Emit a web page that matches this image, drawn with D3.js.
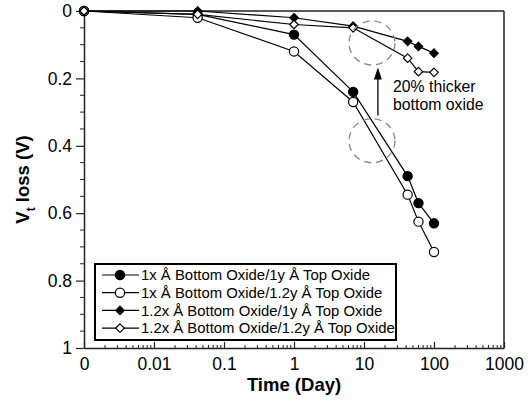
<!DOCTYPE html>
<html>
<head>
<meta charset="utf-8">
<script src="https://cdn.jsdelivr.net/npm/d3@7"></script>
<style>
  body { margin: 0; background: #fff; }
  text { font-family: "Liberation Sans", Arial, sans-serif; }
</style>
</head>
<body>
<div id="graph-container"></div>
<script>
// time in days; 0 is drawn at 0.001 on the log axis
const times = [0.001, 0.042, 1, 7, 42, 60, 100];

const seriesNames = [
    '1x Å Bottom Oxide/1y Å Top Oxide',
    '1x Å Bottom Oxide/1.2y Å Top Oxide',
    '1.2x Å Bottom Oxide/1y Å Top Oxide',
    '1.2x Å Bottom Oxide/1.2y Å Top Oxide',
];
const bot1Top1 = [0, 0.01, 0.07, 0.24, 0.49, 0.57, 0.63];
const bot1Top12 = [0, 0.02, 0.12, 0.27, 0.545, 0.625, 0.715];
const bot12Top1 = [0, 0.0, 0.02, 0.045, 0.09, 0.105, 0.125];
const bot12Top12 = [0, 0.01, 0.04, 0.05, 0.14, 0.18, 0.182];
const markers = ['circle', 'circle', 'diamond', 'diamond'];
const filled = [true, false, true, false];

const xTicks = [0.001, 0.01, 0.1, 1, 10, 100, 1000];
const xTickLabels = ['0', '0.01', '0.1', '1', '10', '100', '1000'];
const yTicks = [0, 0.2, 0.4, 0.6, 0.8, 1];

const margin = { top: 11, bottom: 52, left: 84, right: 24 };
const WIDTH = 528, HEIGHT = 400;
const width = WIDTH - margin.left - margin.right,
    height = HEIGHT - margin.top - margin.bottom;

const svg = d3.select('#graph-container').append('svg')
    .attr('width', WIDTH)
    .attr('height', HEIGHT);

const container = svg.append('g')
    .attr('transform', `translate(${margin.left} ${margin.top})`);

const xScale = d3.scaleLog().domain([0.001, 1000]).range([0, width]);
const yScale = d3.scaleLinear().domain([0, 1]).range([0, height]);

// minor ticks
const xMinor = [];
for (let e = -3; e < 3; e++) {
    for (let k = 2; k <= 9; k++) xMinor.push(k * Math.pow(10, e));
}
const yMinor = d3.range(0, 1.0001, 0.05).filter((v) => Math.abs(v * 5 - Math.round(v * 5)) > 1e-6);

const axisColor = '#222';

// x axis (ticks inward)
const xAxis = container.append('g')
    .attr('transform', `translate(0, ${height})`)
    .call(d3.axisBottom(xScale).tickValues(xTicks)
        .tickFormat((d, i) => xTickLabels[i]).tickSizeInner(-6).tickSizeOuter(0).tickPadding(10));
xAxis.selectAll('text').style('font-size', '17.5px').attr('fill', '#000');
xAxis.select('.domain').attr('stroke', axisColor).attr('stroke-width', 1.5);
xAxis.selectAll('line').attr('stroke', axisColor).attr('stroke-width', 1.2);
container.append('g').selectAll('line').data(xMinor).join('line')
    .attr('x1', (d) => xScale(d)).attr('x2', (d) => xScale(d))
    .attr('y1', height).attr('y2', height - 3)
    .attr('stroke', axisColor).attr('stroke-width', 1);

// y axis (ticks outward)
const yAxis = container.append('g')
    .call(d3.axisLeft(yScale).tickValues(yTicks)
        .tickFormat(d3.format('')).tickSizeInner(8).tickSizeOuter(0).tickPadding(4));
yAxis.selectAll('text').style('font-size', '17.5px').attr('fill', '#000');
yAxis.select('.domain').attr('stroke', axisColor).attr('stroke-width', 1.5);
yAxis.selectAll('line').attr('stroke', axisColor).attr('stroke-width', 1.2);
container.append('g').selectAll('line').data(yMinor).join('line')
    .attr('y1', (d) => yScale(d)).attr('y2', (d) => yScale(d))
    .attr('x1', 0).attr('x2', -4)
    .attr('stroke', axisColor).attr('stroke-width', 1);

// frame top and right
container.append('line')
    .attr('x1', 0).attr('x2', width).attr('y1', 0).attr('y2', 0)
    .attr('stroke', axisColor).attr('stroke-width', 1.5);
container.append('line')
    .attr('x1', width).attr('x2', width).attr('y1', 0).attr('y2', height)
    .attr('stroke', axisColor).attr('stroke-width', 1.5);

// axis titles
svg.append('text')
    .attr('x', margin.left + xScale(1))
    .attr('y', 391)
    .attr('text-anchor', 'middle')
    .style('font-size', '18.5px')
    .style('font-weight', 'bold')
    .text('Time (Day)');

const yTitle = svg.append('text')
    .attr('transform', `translate(29 ${margin.top + height / 2}) rotate(-90)`)
    .attr('text-anchor', 'middle')
    .style('font-size', '18.5px')
    .style('font-weight', 'bold');
yTitle.append('tspan').text('V');
yTitle.append('tspan').attr('dy', 6).style('font-size', '12px').text('t');
yTitle.append('tspan').attr('dy', -6).text(' loss (V)');

// series
const allValues = [bot1Top1, bot1Top12, bot12Top1, bot12Top12];
const data = allValues.map((vals, i) => ({
    name: seriesNames[i],
    marker: markers[i],
    filled: filled[i],
    points: times.map((t, j) => ({ t: t, v: vals[j] })),
}));

const line = d3.line()
    .x((d) => xScale(d.t))
    .y((d) => yScale(d.v));

const symbolFor = (m) => m === 'circle'
    ? d3.symbol().type(d3.symbolCircle).size(Math.PI * 4.6 * 4.6)
    : d3.symbol().type(d3.symbolDiamond2).size(2 * 4.8 * 4.8);

container.selectAll('.series-line')
    .data(data)
    .join('path')
    .attr('class', 'series-line')
    .attr('d', (d) => line(d.points))
    .attr('fill', 'none')
    .attr('stroke', '#000')
    .attr('stroke-width', 1.2);

data.forEach((s) => {
    container.append('g').selectAll('path')
        .data(s.points)
        .join('path')
        .attr('transform', (d) => `translate(${xScale(d.t)} ${yScale(d.v)})`)
        .attr('d', symbolFor(s.marker)())
        .attr('fill', s.filled ? '#000' : '#fff')
        .attr('stroke', '#000')
        .attr('stroke-width', 1.2);
});

// annotations
const ringCenters = [{ t: 13, v: 0.095 }, { t: 13, v: 0.385 }];
container.selectAll('.ring')
    .data(ringCenters)
    .join('ellipse')
    .attr('class', 'ring')
    .attr('cx', (d) => xScale(d.t))
    .attr('cy', (d) => yScale(d.v))
    .attr('rx', 23)
    .attr('ry', 22)
    .attr('fill', 'none')
    .attr('stroke', '#888')
    .attr('stroke-width', 1.3)
    .attr('stroke-dasharray', '7,5');

const arrowT = 15.8;
container.append('line')
    .attr('x1', xScale(arrowT)).attr('x2', xScale(arrowT))
    .attr('y1', yScale(0.31)).attr('y2', yScale(0.19))
    .attr('stroke', '#000').attr('stroke-width', 1.3);
const ax = xScale(arrowT), ay = yScale(0.168);
container.append('path')
    .attr('d', `M${ax},${ay} L${ax - 4},${ay + 12} L${ax + 4},${ay + 12} Z`)
    .attr('fill', '#000');

const noteLines = ['20% thicker', 'bottom oxide'];
container.append('g').selectAll('text')
    .data(noteLines)
    .join('text')
    .attr('x', xScale(26))
    .attr('y', (d, i) => yScale(0.24) + i * 18)
    .style('font-size', '15.8px')
    .text((d) => d);

// legend
const legend = container.append('g')
    .attr('transform', `translate(${95 - margin.left} ${264 - margin.top})`);
legend.append('rect')
    .attr('width', 301).attr('height', 76)
    .attr('fill', '#fff')
    .attr('stroke', '#000')
    .attr('stroke-width', 2);
const rows = legend.selectAll('.row')
    .data(data)
    .join('g')
    .attr('class', 'row')
    .attr('transform', (d, i) => `translate(0 ${11 + i * 17.7})`);
rows.append('line')
    .attr('x1', 7).attr('x2', 44)
    .attr('stroke', '#000').attr('stroke-width', 1.2);
rows.append('path')
    .attr('transform', 'translate(25 0)')
    .attr('d', (d) => symbolFor(d.marker)())
    .attr('fill', (d) => d.filled ? '#000' : '#fff')
    .attr('stroke', '#000')
    .attr('stroke-width', 1.2);
rows.append('text')
    .attr('x', 46)
    .attr('dy', '0.36em')
    .style('font-size', '14.9px')
    .text((d) => d.name);
</script>
</body>
</html>
